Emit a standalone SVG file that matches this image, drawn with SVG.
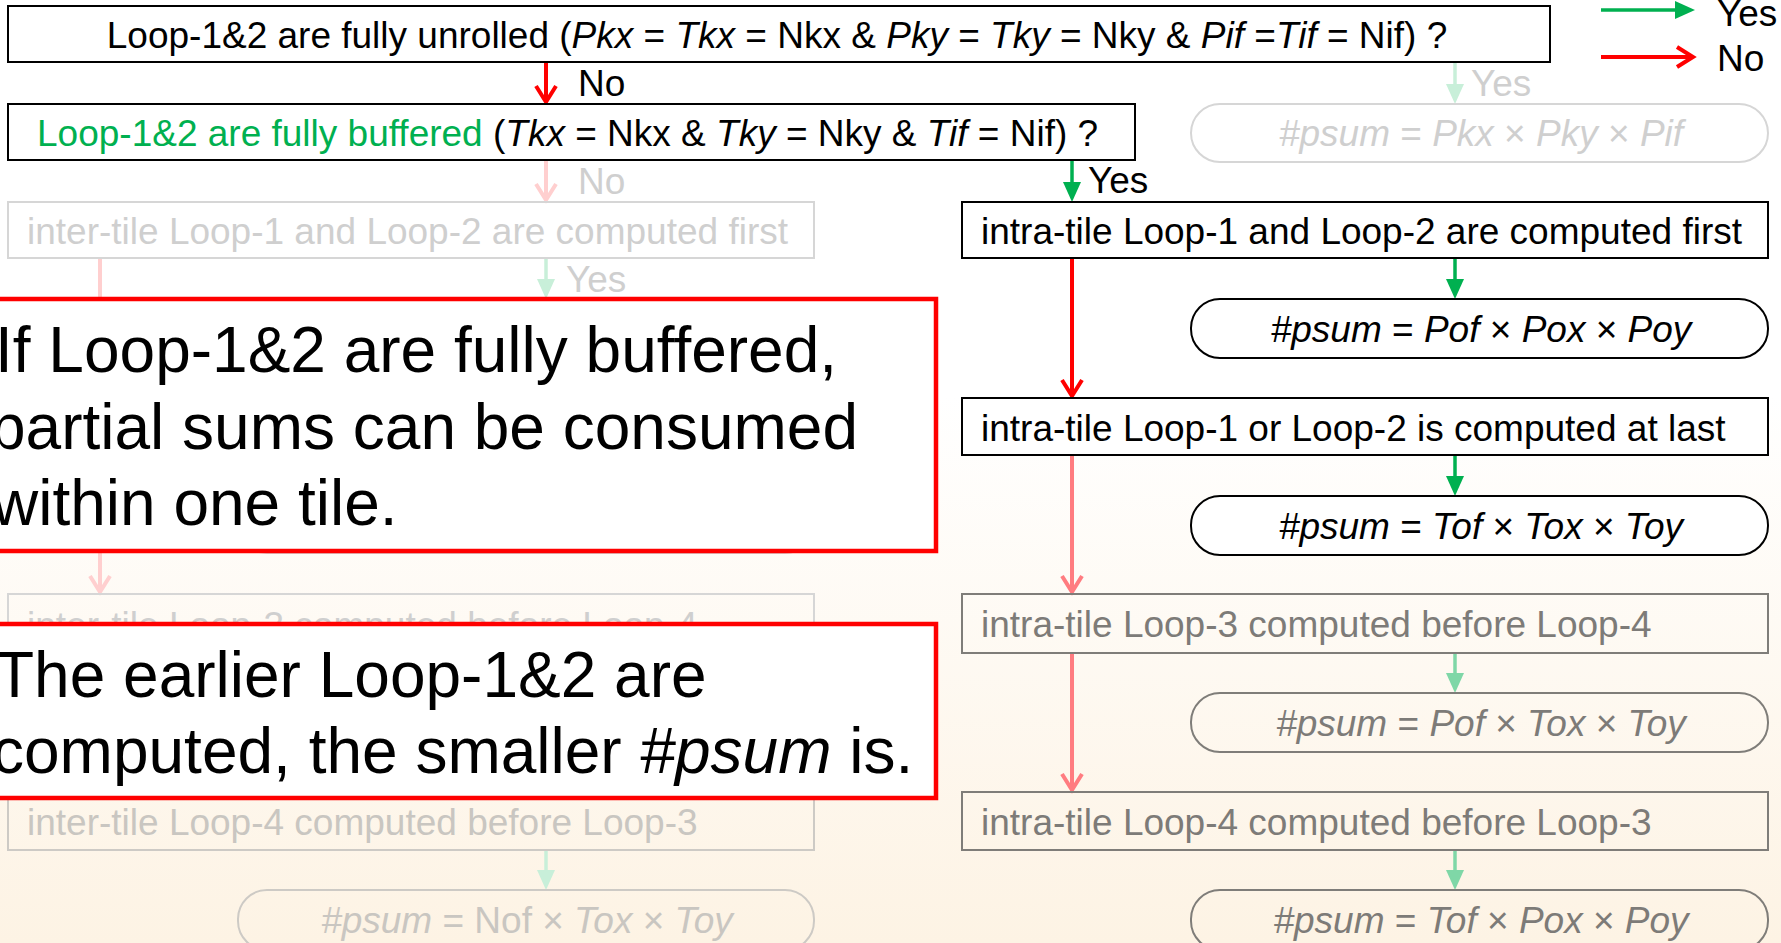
<svg xmlns="http://www.w3.org/2000/svg" width="1781" height="943" viewBox="0 0 1781 943">
  <defs>
    <linearGradient id="bg" x1="0" y1="0" x2="0" y2="1">
      <stop offset="0" stop-color="#ffffff"/>
      <stop offset="0.42" stop-color="#ffffff"/>
      <stop offset="1" stop-color="#fdf3e4"/>
    </linearGradient>
    <!-- filled heads for "Yes" branches -->
    <marker id="hGreen" markerUnits="userSpaceOnUse" markerWidth="22" markerHeight="20" refX="8" refY="9" orient="auto" overflow="visible">
      <path d="M0,0 L20,9 L0,18 Z" fill="#00b050"/>
    </marker>
    <marker id="hGreenMid" markerUnits="userSpaceOnUse" markerWidth="22" markerHeight="20" refX="8" refY="9" orient="auto" overflow="visible">
      <path d="M0,0 L20,9 L0,18 Z" fill="#7fd7a7"/>
    </marker>
    <marker id="hGreenPale" markerUnits="userSpaceOnUse" markerWidth="22" markerHeight="20" refX="8" refY="9" orient="auto" overflow="visible">
      <path d="M0,0 L20,9 L0,18 Z" fill="#c8efd9"/>
    </marker>
    <!-- open chevron heads for "No" branches -->
    <marker id="hRed" markerUnits="userSpaceOnUse" markerWidth="22" markerHeight="24" refX="17" refY="11" orient="auto" overflow="visible">
      <path d="M1,1 L17,11 L1,21" fill="none" stroke="#ff0000" stroke-width="4"/>
    </marker>
    <marker id="hRedMid" markerUnits="userSpaceOnUse" markerWidth="22" markerHeight="24" refX="17" refY="11" orient="auto" overflow="visible">
      <path d="M1,1 L17,11 L1,21" fill="none" stroke="#ff7c80" stroke-width="4"/>
    </marker>
    <marker id="hRedPale" markerUnits="userSpaceOnUse" markerWidth="22" markerHeight="24" refX="17" refY="11" orient="auto" overflow="visible">
      <path d="M1,1 L17,11 L1,21" fill="none" stroke="#ffcfcf" stroke-width="4"/>
    </marker>
  </defs>
  <style>
    .t { font-family: "Liberation Sans", Arial, sans-serif; font-size: 37px; }
    .big { font-family: "Liberation Sans", Arial, sans-serif; font-size: 64px; fill: #000; }
    .i { font-style: italic; }
    .blk { fill: #000; }
    .grn { fill: #00b050; }
    .gry { fill: #7d7b78; }
    .pale { fill: #cfcfcf; }
    .paleW { fill: #c9c6c1; }
    .bx { fill: #fff; stroke: #000; stroke-width: 2; }
    .bxG { fill: none; stroke: #7f7d79; stroke-width: 2; }
    .bxP { fill: none; stroke: #d6d6d6; stroke-width: 2; }
    .bxPW { fill: none; stroke: #cdcac5; stroke-width: 2; }
    .call { fill: #fff; stroke: #ff0000; stroke-width: 4.5; }
    .aG { stroke: #00b050; stroke-width: 3.5; fill: none; marker-end: url(#hGreen); }
    .aGm { stroke: #7fd7a7; stroke-width: 3.5; fill: none; marker-end: url(#hGreenMid); }
    .aGp { stroke: #c8efd9; stroke-width: 3.5; fill: none; marker-end: url(#hGreenPale); }
    .aR { stroke: #ff0000; stroke-width: 4; fill: none; marker-end: url(#hRed); }
    .aRm { stroke: #ff7c80; stroke-width: 4; fill: none; marker-end: url(#hRedMid); }
    .aRp { stroke: #ffcfcf; stroke-width: 4; fill: none; marker-end: url(#hRedPale); }
  </style>

  <rect x="0" y="0" width="1781" height="943" fill="url(#bg)"/>

  <!-- connectors -->
  <g id="connectors">
    <path class="aR" d="M546,62 V102"/>
    <path class="aGp" d="M1455,62 V92"/>
    <path class="aRp" d="M546,160 V200"/>
    <path class="aG" d="M1072,160 V190"/>
    <path class="aGp" d="M546,258 V287"/>
    <path class="aRp" d="M100,258 V592"/>
    <path class="aG" d="M1455,258 V287"/>
    <path class="aR" d="M1072,258 V396"/>
    <path class="aG" d="M1455,455 V484"/>
    <path class="aRm" d="M1072,455 V592"/>
    <path class="aGm" d="M1455,653 V681"/>
    <path class="aRm" d="M1072,653 V790"/>
    <path class="aGm" d="M1455,850 V878"/>
    <path class="aGp" d="M546,850 V878"/>
    <!-- legend -->
    <path class="aG" d="M1601,10 H1683"/>
    <path class="aR" d="M1601,57 H1693"/>
  </g>

  <!-- branch labels -->
  <g id="labels" class="t">
    <text class="blk" x="578" y="96">No</text>
    <text class="pale" x="1471" y="96">Yes</text>
    <text class="pale" x="578" y="194">No</text>
    <text class="blk" x="1088" y="193">Yes</text>
    <text class="pale" x="566" y="292">Yes</text>
    <text class="blk" x="1717" y="26">Yes</text>
    <text class="blk" x="1717" y="71">No</text>
  </g>

  <g id="q-unrolled">
    <rect class="bx" x="8" y="6" width="1542" height="56"/>
    <text class="t blk" x="777" y="48" text-anchor="middle">Loop-1&amp;2 are fully unrolled (<tspan class="i">Pkx</tspan> = <tspan class="i">Tkx</tspan> = Nkx &amp; <tspan class="i">Pky</tspan> = <tspan class="i">Tky</tspan> = Nky &amp; <tspan class="i">Pif</tspan> =<tspan class="i">Tif</tspan> = Nif) ?</text>
  </g>

  <g id="psum-full">
    <rect class="bxP" x="1191" y="104" width="577" height="58" rx="29"/>
    <text class="t pale" x="1481" y="146" text-anchor="middle"><tspan class="i">#psum</tspan> = <tspan class="i">Pkx</tspan> × <tspan class="i">Pky</tspan> × <tspan class="i">Pif</tspan></text>
  </g>

  <g id="q-buffered">
    <rect class="bx" x="8" y="104" width="1127" height="56"/>
    <text class="t" x="37" y="146"><tspan class="grn">Loop-1&amp;2 are fully buffered</tspan><tspan class="blk"> (<tspan class="i">Tkx</tspan> = Nkx &amp; <tspan class="i">Tky</tspan> = Nky &amp; <tspan class="i">Tif</tspan> = Nif) ?</tspan></text>
  </g>

  <g id="inter-12-first">
    <rect class="bxP" x="8" y="202" width="806" height="56"/>
    <text class="t pale" x="27" y="244">inter-tile Loop-1 and Loop-2 are computed first</text>
  </g>

  <g id="inter-psum-hidden">
    <rect class="bxP" x="238" y="495" width="576" height="58" rx="29"/>
  </g>

  <g id="inter-3-before-4">
    <rect class="bxP" x="8" y="594" width="806" height="58"/>
    <text class="t pale" x="27" y="638">inter-tile Loop-3 computed before Loop-4</text>
  </g>

  <g id="inter-4-before-3">
    <rect class="bxPW" x="8" y="792" width="806" height="58"/>
    <text class="t paleW" x="27" y="835">inter-tile Loop-4 computed before Loop-3</text>
  </g>

  <g id="psum-nof">
    <rect class="bxPW" x="238" y="890" width="576" height="60" rx="29"/>
    <text class="t paleW" x="527" y="933" text-anchor="middle"><tspan class="i">#psum</tspan> = Nof × <tspan class="i">Tox</tspan> × <tspan class="i">Toy</tspan></text>
  </g>

  <g id="intra-12-first">
    <rect class="bx" x="962" y="202" width="806" height="56"/>
    <text class="t blk" x="981" y="244">intra-tile Loop-1 and Loop-2 are computed first</text>
  </g>

  <g id="psum-pof-pox-poy">
    <rect class="bx" x="1191" y="299" width="577" height="59" rx="29"/>
    <text class="t blk" x="1481" y="342" text-anchor="middle"><tspan class="i">#psum</tspan> = <tspan class="i">Pof</tspan> × <tspan class="i">Pox</tspan> × <tspan class="i">Poy</tspan></text>
  </g>

  <g id="intra-12-last">
    <rect class="bx" x="962" y="398" width="806" height="57"/>
    <text class="t blk" x="981" y="441">intra-tile Loop-1 or Loop-2 is computed at last</text>
  </g>

  <g id="psum-tof-tox-toy">
    <rect class="bx" x="1191" y="496" width="577" height="59" rx="29"/>
    <text class="t blk" x="1481" y="539" text-anchor="middle"><tspan class="i">#psum</tspan> = <tspan class="i">Tof</tspan> ×  <tspan class="i">Tox</tspan> ×  <tspan class="i">Toy</tspan></text>
  </g>

  <g id="intra-3-before-4">
    <rect class="bxG" x="962" y="594" width="806" height="59"/>
    <text class="t gry" x="981" y="637">intra-tile Loop-3 computed before Loop-4</text>
  </g>

  <g id="psum-pof-tox-toy">
    <rect class="bxG" x="1191" y="693" width="577" height="59" rx="29"/>
    <text class="t gry" x="1481" y="736" text-anchor="middle"><tspan class="i">#psum</tspan> = <tspan class="i">Pof</tspan> × <tspan class="i">Tox</tspan> × <tspan class="i">Toy</tspan></text>
  </g>

  <g id="intra-4-before-3">
    <rect class="bxG" x="962" y="792" width="806" height="58"/>
    <text class="t gry" x="981" y="835">intra-tile Loop-4 computed before Loop-3</text>
  </g>

  <g id="psum-tof-pox-poy">
    <rect class="bxG" x="1191" y="890" width="577" height="60" rx="29"/>
    <text class="t gry" x="1481" y="933" text-anchor="middle"><tspan class="i">#psum</tspan> = <tspan class="i">Tof</tspan> × <tspan class="i">Pox</tspan> × <tspan class="i">Poy</tspan></text>
  </g>

  <!-- callout notes -->
  <g id="note-buffered">
    <rect class="call" x="-10" y="299" width="946" height="252"/>
    <text class="big" x="-5" y="372">If Loop-1&amp;2 are fully buffered,</text>
    <text class="big" x="-10" y="449">partial sums can be consumed</text>
    <text class="big" x="-8" y="525">within one tile.</text>
  </g>

  <g id="note-order">
    <rect class="call" x="-10" y="624" width="946" height="174"/>
    <text class="big" x="-5" y="697">The earlier Loop-1&amp;2 are</text>
    <text class="big" x="-8" y="773">computed, the smaller <tspan class="i">#psum</tspan> is.</text>
  </g>
</svg>
